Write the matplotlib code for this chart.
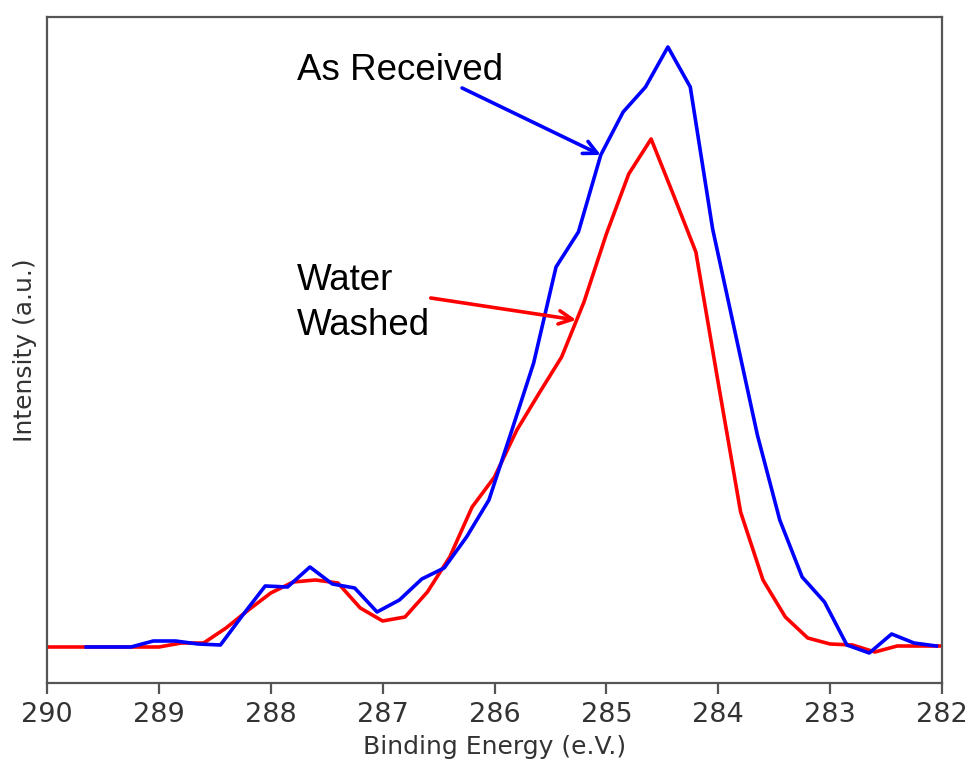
import matplotlib.pyplot as plt

# Binding energy (eV) and intensity (a.u.)
energy_received = [289.65, 289.45, 289.25, 289.05, 288.85, 288.65, 288.45, 288.25,
                   288.05, 287.85, 287.65, 287.45, 287.25, 287.05, 286.85, 286.65,
                   286.45, 286.25, 286.05, 285.85, 285.65, 285.45, 285.25, 285.05,
                   284.85, 284.65, 284.45, 284.25, 284.05, 283.85, 283.65, 283.45,
                   283.25, 283.05, 282.85, 282.65, 282.45, 282.25, 282.05]
as_received = [36, 36, 36, 42, 42, 39, 38, 68,
               97, 96, 116, 99, 95, 71, 83, 104,
               115, 146, 183, 251, 320, 416, 451, 528,
               571, 596, 636, 596, 454, 351, 248, 163,
               106, 81, 38, 30, 49, 40, 37]

energy_washed = [290.0, 289.8, 289.6, 289.4, 289.2, 289.0, 288.8, 288.6, 288.4,
                 288.2, 288.0, 287.8, 287.6, 287.4, 287.2, 287.0, 286.8, 286.6,
                 286.4, 286.2, 286.0, 285.8, 285.6, 285.4, 285.2, 285.0, 284.8,
                 284.6, 284.4, 284.2, 284.0, 283.8, 283.6, 283.4, 283.2, 283.0,
                 282.8, 282.6, 282.4, 282.2, 282.0]
water_washed = [36, 36, 36, 36, 36, 36, 40, 40, 55,
                73, 90, 101, 103, 100, 75, 62, 66, 91,
                126, 176, 206, 253, 290, 326, 381, 449, 509,
                544, 488, 431, 300, 171, 103, 66, 45, 39,
                38, 31, 37, 37, 37]

x_ticks = [290, 289, 288, 287, 286, 285, 284, 283, 282]

fig = plt.figure(figsize=(9.68, 7.61), dpi=100)
ax = fig.add_axes([0.0486, 0.1025, 0.9245, 0.8752])

ax.plot(energy_washed, water_washed, color="red", linewidth=2.6)
ax.plot(energy_received, as_received, color="blue", linewidth=2.6)

ax.set_xlim(290, 282)
ax.set_ylim(0, 666)
ax.set_xticks(x_ticks)
ax.set_yticks([])

# ----------- labels / annotations --------------
ann_font = dict(family=["Liberation Sans", "DejaVu Sans"], fontsize=26.5, color="black")
ax.text(287.77, 603, "As Received", va="baseline", ha="left", **ann_font)
ax.text(287.77, 393, "Water", va="baseline", ha="left", **ann_font)
ax.text(287.77, 348, "Washed", va="baseline", ha="left", **ann_font)

ax.annotate("", xy=(285.05, 528), xytext=(286.29, 595),
            arrowprops=dict(arrowstyle="->", color="blue", lw=2.6, mutation_scale=24,
                            shrinkA=0, shrinkB=0))
ax.annotate("", xy=(285.27, 363), xytext=(286.57, 385),
            arrowprops=dict(arrowstyle="->", color="red", lw=2.6, mutation_scale=24,
                            shrinkA=0, shrinkB=0))

ax.set_xlabel("Binding Energy (e.V.)", fontsize=18, color="#333333", labelpad=5)
ax.set_ylabel("Intensity (a.u.)", fontsize=18, color="#333333", labelpad=7)

for side in ax.spines.values():
    side.set_color("#555555")
    side.set_linewidth(1.6)
ax.tick_params(axis="x", length=8, width=1.6, color="#555555", labelsize=19.5,
               labelcolor="#333333", pad=6)

plt.savefig("out.png", dpi=100)
